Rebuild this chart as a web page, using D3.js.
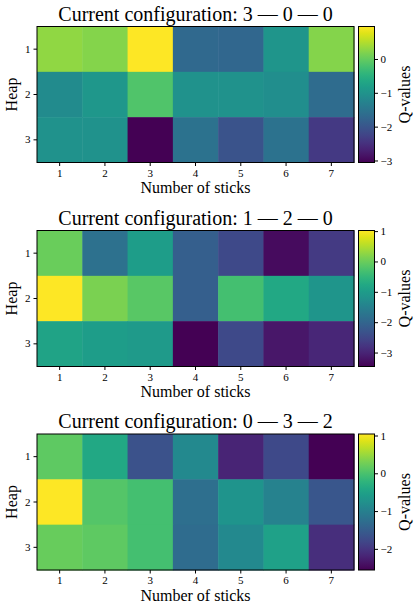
<!DOCTYPE html>
<html>
<head>
<meta charset="utf-8">
<script src="https://cdn.jsdelivr.net/npm/d3@7"></script>
<style>
  body { margin: 0; background: #fff; }
  svg { display: block; }
  text { font-family: "Liberation Serif", "DejaVu Serif", serif; fill: #000; }
</style>
</head>
<body>
<div id="chart"></div>
<script>
// heap rows and stick columns
const heaps = [1, 2, 3];
const sticks = [1, 2, 3, 4, 5, 6, 7];

// Q-values, one row per heap
const config1 = "3 — 0 — 0";
const q1 = [
    [0.30, 0.21, 0.96, -1.70, -1.74, -0.97, 0.21],
    [-1.13, -0.93, -0.15, -1.01, -1.01, -1.09, -1.66],
    [-1.01, -1.01, -3.06, -1.54, -2.03, -1.54, -2.40]
];

const config2 = "1 — 2 — 0";
const q2 = [
    [0.00, -1.80, -0.99, -2.12, -2.47, -3.33, -2.70],
    [1.02, 0.12, -0.15, -2.12, -0.32, -0.77, -1.13],
    [-0.86, -0.99, -1.04, -3.46, -2.47, -3.19, -2.97]
];

const config3 = "0 — 3 — 2";
const q3 = [
    [0.14, -0.40, -1.66, -0.87, -2.20, -1.77, -2.56],
    [1.04, 0.07, -0.04, -1.26, -0.69, -0.98, -1.59],
    [0.21, 0.14, -0.04, -1.30, -0.87, -0.51, -2.09]
];

const W = 419, H = 611;
const panelTops = [26.5, 230.5, 434];
const plotLeft = 37, plotW = 317, plotH = 136;
const cbarX = 358.5, cbarW = 16;

const svg = d3.select("#chart").append("svg")
    .attr("width", W)
    .attr("height", H);

function drawPanel(top, config, q) {
    const g = svg.append("g").attr("transform", `translate(0,${top})`);

    const x = d3.scaleBand().domain(sticks).range([plotLeft, plotLeft + plotW]);
    const y = d3.scaleBand().domain(heaps).range([0, plotH]);

    const flat = q.flat();
    const extent = d3.extent(flat);
    const color = d3.scaleSequential(d3.interpolateViridis).domain(extent);

    const cells = [];
    q.forEach((row, i) => row.forEach((v, j) => cells.push({ heap: heaps[i], stick: sticks[j], value: v })));

    g.append("g")
        .selectAll("rect")
        .data(cells)
        .join("rect")
        .attr("x", d => x(d.stick))
        .attr("y", d => y(d.heap))
        .attr("width", x.bandwidth() + 0.5)
        .attr("height", y.bandwidth() + 0.5)
        .attr("fill", d => color(d.value));

    g.append("rect")
        .attr("x", plotLeft).attr("y", 0)
        .attr("width", plotW).attr("height", plotH)
        .attr("fill", "none").attr("stroke", "#000").attr("stroke-width", 1);

    const xAxis = g.append("g")
        .attr("transform", `translate(0,${plotH})`)
        .call(d3.axisBottom(x).tickSize(3.5).tickPadding(3));
    const yAxis = g.append("g")
        .attr("transform", `translate(${plotLeft},0)`)
        .call(d3.axisLeft(y).tickSize(3.5).tickPadding(3));
    [xAxis, yAxis].forEach(a => {
        a.select(".domain").remove();
        a.selectAll("text").style("font-family", "Liberation Serif").style("font-size", "11px").attr("fill", "#000");
        a.selectAll("line").attr("stroke", "#000");
    });

    g.append("text")
        .attr("x", plotLeft + plotW / 2)
        .attr("y", -6)
        .attr("text-anchor", "middle")
        .style("font-size", "20px")
        .text("Current configuration: " + config);

    g.append("text")
        .attr("x", plotLeft + plotW / 2)
        .attr("y", plotH + 30.5)
        .attr("text-anchor", "middle")
        .style("font-size", "16px")
        .text("Number of sticks");

    g.append("text")
        .attr("transform", `translate(17,${plotH / 2}) rotate(-90)`)
        .attr("text-anchor", "middle")
        .style("font-size", "16px")
        .text("Heap");

    // colour bar
    const c = d3.scaleLinear().domain(extent).range([plotH, 0]);
    const gradId = "grad" + Math.round(top);
    const grad = svg.append("defs").append("linearGradient")
        .attr("id", gradId)
        .attr("x1", 0).attr("y1", 1).attr("x2", 0).attr("y2", 0);
    d3.range(0, 1.001, 0.05).forEach(t => {
        grad.append("stop").attr("offset", t).attr("stop-color", d3.interpolateViridis(t));
    });
    g.append("rect")
        .attr("x", cbarX).attr("y", 0)
        .attr("width", cbarW).attr("height", plotH)
        .attr("fill", `url(#${gradId})`)
        .attr("stroke", "#000").attr("stroke-width", 1);

    const ticks = d3.range(Math.ceil(extent[0]), Math.floor(extent[1]) + 1);
    const cAxis = g.append("g")
        .attr("transform", `translate(${cbarX + cbarW},0)`)
        .call(d3.axisRight(c).tickValues(ticks).tickFormat(d3.format("d")).tickSize(3.5).tickPadding(2.5));
    cAxis.select(".domain").remove();
    cAxis.selectAll("text").style("font-family", "Liberation Serif").style("font-size", "11px").attr("fill", "#000");
    cAxis.selectAll("line").attr("stroke", "#000");

    g.append("text")
        .attr("transform", `translate(410,${plotH / 2}) rotate(-90)`)
        .attr("text-anchor", "middle")
        .style("font-size", "16px")
        .text("Q-values");
}

drawPanel(panelTops[0], config1, q1);
drawPanel(panelTops[1], config2, q2);
drawPanel(panelTops[2], config3, q3);
</script>
</body>
</html>
